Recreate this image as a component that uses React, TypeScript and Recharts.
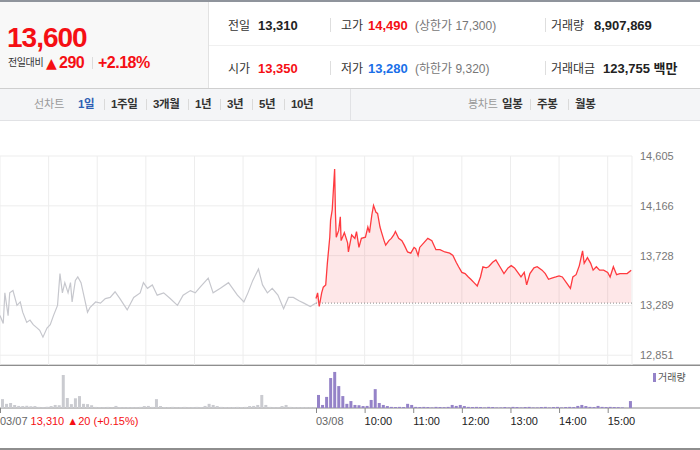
import React from "react";
import { ComposedChart, Line, Area, XAxis, YAxis, CartesianGrid, ReferenceLine, BarChart, Bar, Cell } from "recharts";

const FONT = '"Liberation Sans", Arial, "Noto Sans CJK KR", sans-serif';
const RED = "#f50f14";
const BLUE = "#1a6fe8";

const PREV_CLOSE = 13310;
const priceTicks = [12851, 13289, 13728, 14166, 14605];
// minutes from 09:00 of 03/07; 03/08 starts at 390
const gridTicks = [0, 60, 120, 180, 240, 300, 360, 390, 450, 510, 570, 630, 690, 750];
const axisTicks = [0, 390, 450, 510, 570, 630, 690, 750];
const axisLabels = ["03/07", "03/08", "10:00", "11:00", "12:00", "13:00", "14:00", "15:00"];
const prevCloseNote = "13,310 ▲20 (+0.15%)";

const prevMinutes = [0, 4, 6, 10, 12, 16, 21, 25, 28, 33, 37, 41, 46, 49, 53, 58, 62, 66, 71, 74, 77, 80, 84, 87, 89, 93, 96, 100, 104, 108, 111, 118, 124, 130, 136, 142, 148, 157, 165, 173, 177, 182, 188, 194, 202, 210, 219, 226, 235, 241, 247, 257, 263, 272, 282, 293, 301, 306, 312, 319, 324, 330, 336, 343, 350, 356, 362, 369, 375, 383, 390];
const prevPrices = [13200, 13130, 13400, 13200, 13400, 13420, 13290, 13320, 13230, 13140, 13160, 13120, 13090, 13070, 13010, 13090, 13120, 13200, 13290, 13570, 13400, 13490, 13400, 13490, 13320, 13510, 13540, 13490, 13360, 13230, 13270, 13320, 13310, 13350, 13360, 13410, 13350, 13250, 13360, 13400, 13490, 13440, 13470, 13380, 13400, 13350, 13290, 13380, 13420, 13400, 13450, 13530, 13400, 13440, 13490, 13380, 13320, 13400, 13510, 13610, 13470, 13400, 13440, 13380, 13260, 13360, 13360, 13330, 13310, 13280, 13310];

const todayMinutes = [0, 2, 4, 7, 9, 12, 14, 17, 18, 20, 23, 24, 25, 28, 30, 31, 35, 39, 40, 44, 48, 50, 53, 56, 61, 64, 66, 69, 71, 74, 76, 79, 81, 84, 86, 90, 93, 96, 98, 102, 106, 109, 113, 117, 121, 123, 126, 128, 133, 138, 143, 148, 153, 159, 165, 169, 173, 176, 180, 184, 188, 191, 195, 199, 203, 206, 210, 213, 218, 222, 227, 232, 237, 241, 245, 249, 253, 257, 260, 264, 269, 273, 279, 283, 287, 291, 296, 300, 304, 309, 314, 317, 321, 325, 329, 331, 335, 339, 342, 346, 350, 355, 360, 363, 367, 371, 375, 379, 384, 389];
const todayPrices = [13350, 13400, 13280, 13400, 13450, 13470, 13660, 13890, 14040, 14130, 14490, 14100, 13890, 13950, 14070, 13860, 13930, 13840, 13760, 13910, 13880, 13940, 13800, 13880, 13890, 13980, 13930, 14090, 14170, 14110, 14100, 13980, 13930, 13860, 13820, 13860, 13880, 13910, 13940, 13880, 13860, 13820, 13760, 13750, 13800, 13790, 13730, 13800, 13840, 13880, 13860, 13780, 13780, 13760, 13750, 13730, 13670, 13630, 13580, 13570, 13540, 13520, 13490, 13460, 13540, 13630, 13620, 13630, 13670, 13690, 13630, 13570, 13620, 13640, 13620, 13580, 13540, 13580, 13470, 13570, 13620, 13630, 13600, 13570, 13520, 13530, 13540, 13550, 13540, 13490, 13440, 13540, 13560, 13640, 13770, 13660, 13710, 13660, 13600, 13630, 13600, 13600, 13580, 13540, 13630, 13560, 13570, 13570, 13570, 13600];

// volume per 5-minute bucket, thousand shares
const prevVolume = [320, 150, 180, 110, 75, 70, 80, 65, 70, 40, 35, 45, 70, 110, 100, 1190, 360, 140, 350, 430, 150, 140, 100, 40, 35, 30, 40, 20, 75, 35, 30, 40, 35, 30, 40, 70, 75, 40, 320, 70, 35, 30, 40, 20, 35, 40, 30, 35, 40, 35, 75, 150, 110, 70, 40, 35, 30, 35, 40, 30, 40, 70, 75, 110, 470, 110, 40, 35, 30, 70, 110, 40, 35, 30, 35, 30, 25, 20];
const todayVolume = [470, 110, 400, 1080, 1300, 790, 430, 150, 250, 110, 100, 70, 75, 290, 680, 180, 110, 70, 40, 35, 40, 35, 150, 110, 40, 35, 40, 35, 20, 40, 35, 30, 40, 110, 75, 110, 70, 40, 35, 40, 35, 20, 40, 35, 20, 20, 35, 20, 40, 35, 20, 35, 40, 20, 20, 35, 40, 20, 35, 40, 20, 35, 40, 35, 75, 110, 70, 40, 35, 75, 40, 35, 40, 35, 30, 20, 0, 250];

const priceRows = [
  ...prevMinutes.map((t, i) => ({ t, prev: prevPrices[i] })),
  ...todayMinutes.map((t, i) => ({ t: 390 + t, today: todayPrices[i] })),
];

const volumeRows = [
  ...prevVolume.map((v, i) => ({ t: i * 5 + 2.5, vol: v, today: false })),
  ...todayVolume.map((v, i) => ({ t: 390 + i * 5 + 2.5, vol: v, today: true })),
];

const tabsLeft = [
  { label: "1일", x: 78, active: true },
  { label: "1주일", x: 111 },
  { label: "3개월", x: 153 },
  { label: "1년", x: 195 },
  { label: "3년", x: 227 },
  { label: "5년", x: 259 },
  { label: "10년", x: 291 },
];
const tabsRight = [
  { label: "일봉", x: 502 },
  { label: "주봉", x: 537 },
  { label: "월봉", x: 575 },
];

function TimeTick(props: any) {
  const { x, y, payload } = props;
  const i = axisTicks.indexOf(payload.value);
  return (
    <g>
      <line x1={x + 0.5} x2={x + 0.5} y1={y} y2={y + 5} stroke="#888" />
      <text x={x} y={y + 17} fontSize={11} fontFamily={FONT} textAnchor="start" fill={i < 2 ? "#666" : "#222"}>
        {axisLabels[i]}
        {i === 0 && <tspan fill={RED}> {prevCloseNote}</tspan>}
      </text>
    </g>
  );
}

function Header() {
  const lbl = { fontSize: 12, fill: "#333" };
  const num = { fontSize: 13, fontWeight: 700, fill: "#222" };
  const sub = { fontSize: 12, fill: "#777" };
  return (
    <svg width={700} height={450} style={{ position: "absolute", left: 0, top: 0 }} fontFamily={FONT}>
      <rect x={0} y={0} width={700} height={2} fill="#8f949c" />
      <rect x={0} y={2} width={208} height={86} fill="#f8f8f8" />
      <rect x={208} y={2} width={1} height={86} fill="#e2e2e2" />
      <rect x={209} y={45} width={491} height={1} fill="#f0f0f0" />
      <rect x={0} y={88} width={700} height={1} fill="#cfcfcf" />

      <text x={7} y={47} fontSize={28} fontWeight={700} fill={RED} letterSpacing={-1}>13,600</text>
      <text x={8} y={66} fontSize={10} fill="#333" letterSpacing={-0.4}>전일대비</text>
      <text x={46} y={68} fontSize={14} fill={RED} fontFamily="DejaVu Sans">▲</text>
      <text x={59} y={68} fontSize={16} fontWeight={700} fill={RED} letterSpacing={-0.5}>290</text>
      <rect x={92} y={57} width={1} height={12} fill="#dcdcdc" />
      <text x={98} y={68} fontSize={16} fontWeight={700} fill={RED} letterSpacing={-0.5}>+2.18%</text>

      <text x={228} y={30} {...lbl}>전일</text>
      <text x={258} y={30} {...num}>13,310</text>
      <rect x={330} y={18} width={1} height={14} fill="#dedede" />
      <text x={341} y={30} {...lbl}>고가</text>
      <text x={368} y={30} {...num} fill={RED}>14,490</text>
      <text x={415} y={30} {...sub}>(상한가 17,300)</text>
      <rect x={545} y={18} width={1} height={14} fill="#dedede" />
      <text x={551} y={30} {...lbl}>거래량</text>
      <text x={594} y={30} {...num}>8,907,869</text>

      <text x={228} y={73} {...lbl}>시가</text>
      <text x={258} y={73} {...num} fill={RED}>13,350</text>
      <rect x={330} y={61} width={1} height={14} fill="#dedede" />
      <text x={341} y={73} {...lbl}>저가</text>
      <text x={368} y={73} {...num} fill={BLUE}>13,280</text>
      <text x={415} y={73} {...sub}>(하한가 9,320)</text>
      <rect x={545} y={61} width={1} height={14} fill="#dedede" />
      <text x={551} y={73} {...lbl}>거래대금</text>
      <text x={603} y={73} {...num}>123,755 백만</text>

      <rect x={0} y={89} width={700} height={31} fill="#f4f5f7" />
      <rect x={0} y={120} width={700} height={1} fill="#e1e2e5" />
      <rect x={350} y={89} width={1} height={31} fill="#e1e2e5" />
      <text x={34} y={108} fontSize={11} fill="#999">선차트</text>
      {tabsLeft.map((t, i) => (
        <g key={t.label}>
          {i > 0 && <rect x={t.x - 7} y={99} width={1} height={11} fill="#dadada" />}
          <text x={t.x} y={108} fontSize={11.5} fontWeight={700} letterSpacing={-0.4} fill={t.active ? "#2f5fb3" : "#333"}>{t.label}</text>
        </g>
      ))}
      <text x={468} y={108} fontSize={11} fill="#999" letterSpacing={-0.3}>봉차트</text>
      {tabsRight.map((t, i) => (
        <g key={t.label}>
          {i > 0 && <rect x={t.x - 7} y={99} width={1} height={11} fill="#dadada" />}
          <text x={t.x} y={108} fontSize={11.5} fontWeight={700} letterSpacing={-0.4} fill="#333">{t.label}</text>
        </g>
      ))}

      <rect x={0} y={364.5} width={700} height={1.5} fill="#8e8e8e" />
      <rect x={0} y={407.5} width={700} height={1} fill="#8a8a8a" />
      <rect x={0} y={448} width={700} height={2} fill="#8e8e8e" />
      <rect x={653} y={373} width={3} height={9} fill="#9583c8" />
      <text x={658} y={381} fontSize={10} fill="#555">거래량</text>
    </svg>
  );
}

export default function App() {
  return (
    <div style={{ position: "absolute", left: 0, top: 0, width: 700, height: 450, background: "#fff", overflow: "hidden", fontFamily: FONT }}>
      <Header />
      <div style={{ position: "absolute", left: 0, top: 150 }}>
        <ComposedChart width={700} height={215} data={priceRows} margin={{ top: 6, right: 0, bottom: 0, left: 0 }}>
          <CartesianGrid stroke="#ededed" strokeWidth={1} />
          <XAxis dataKey="t" type="number" domain={[0, 780]} ticks={gridTicks} hide />
          <YAxis
            orientation="right"
            width={68}
            domain={[12765, 14605]}
            ticks={priceTicks}
            axisLine={false}
            tickLine={false}
            tickSize={0}
            tickMargin={8}
            interval={0}
            tick={{ fill: "#777", fontSize: 11, fontFamily: FONT, textAnchor: "start" }}
            tickFormatter={(v: number) => v.toLocaleString("en-US")}
          />
          <Line dataKey="prev" stroke="#c6c7cd" strokeWidth={1.2} dot={false} activeDot={false} isAnimationActive={false} />
          <Area
            dataKey="today"
            baseValue={PREV_CLOSE}
            stroke="#ff3a3f"
            strokeWidth={1.3}
            fill="#f5363f"
            fillOpacity={0.12}
            dot={false}
            activeDot={false}
            isAnimationActive={false}
          />
          <ReferenceLine segment={[{ x: 390, y: PREV_CLOSE }, { x: 780, y: PREV_CLOSE }]} stroke="#8a8a8a" strokeDasharray="1 2" />
        </ComposedChart>
      </div>
      <div style={{ position: "absolute", left: 0, top: 365 }}>
        <BarChart width={700} height={70} data={volumeRows} margin={{ top: 0, right: 68, bottom: 0, left: 0 }} barGap={0}>
          <XAxis
            dataKey="t"
            type="number"
            domain={[0, 780]}
            ticks={axisTicks}
            interval={0}
            height={27}
            axisLine={false}
            tickLine={false}
            tickSize={0}
            tickMargin={0}
            tick={(p: any) => <TimeTick {...p} />}
          />
          <YAxis hide domain={[0, 1550]} />
          <Bar dataKey="vol" barSize={3} isAnimationActive={false}>
            {volumeRows.map((r, i) => (
              <Cell key={`v-${i}`} fill={r.today ? "#9583c8" : "#cacbd0"} />
            ))}
          </Bar>
        </BarChart>
      </div>
    </div>
  );
}
